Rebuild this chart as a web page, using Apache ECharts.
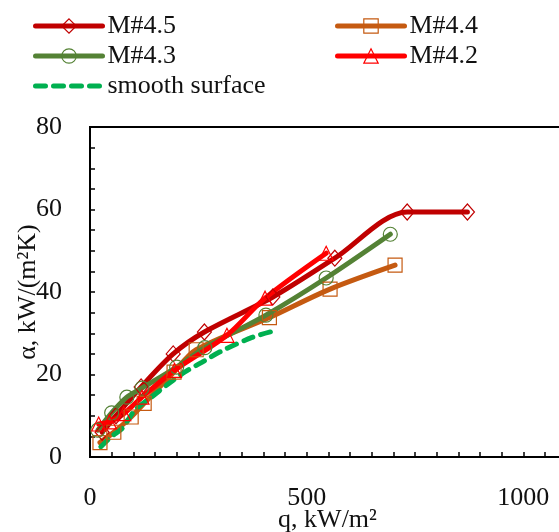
<!DOCTYPE html>
<html>
<head>
<meta charset="utf-8">
<script src="https://cdn.jsdelivr.net/npm/echarts@6/dist/echarts.min.js"></script>
<style>html,body{margin:0;padding:0;background:#fff}#c{width:559px;height:532px}</style>
</head>
<body>
<div id="c"></div>
<script>
// Data
const m45_q = [28, 60, 118, 192, 264, 422, 565, 732, 871];
const m45_a = [6, 10, 17, 25, 30.3, 38.8, 48.2, 59.4, 59.4];
const m44_q = [23, 55, 95, 125, 194, 245, 414, 554, 704];
const m44_a = [3.5, 6, 9.7, 13, 20.6, 26, 33.8, 40.7, 46.5];
const m43_q = [18, 50, 85, 120, 200, 265, 406, 545, 693];
const m43_a = [6.5, 10.7, 14.5, 16.7, 21.8, 26.5, 34.4, 43.4, 54];
const m42_q = [20, 45, 78, 120, 195, 316, 404, 545];
const m42_a = [8, 8.5, 10.5, 14.5, 21, 29.5, 38.5, 49.4];
const ss_q = [25, 50, 75, 104, 143, 178, 219, 259, 300, 374, 423];
const ss_a = [2.5, 5, 7, 11.4, 14.6, 17.5, 20.6, 23, 25.5, 29, 30.5];
const xTickLabels = [0, 500, 1000];
const yTickLabels = [0, 20, 40, 60, 80];

const zip = (a, b) => a.map((v, i) => [v, b[i]]);
const FONT = 'Liberation Serif';

function mk(name, q, a, color, symbol, extra) {
  return Object.assign({
    name: name,
    type: 'line',
    data: zip(q, a),
    smooth: 0.3,
    symbol: symbol,
    symbolSize: 14,
    showSymbol: true,
    lineStyle: { color: color, width: 5, cap: 'round' },
    itemStyle: { color: 'rgba(255,255,255,0)', borderColor: color, borderWidth: 1.2 }
  }, extra || {});
}

const series = [
  mk('M#4.5', m45_q, m45_a, '#C00000', 'diamond', { symbolSize: [14, 16] }),
  mk('M#4.4', m44_q, m44_a, '#C55A11', 'rect'),
  mk('M#4.3', m43_q, m43_a, '#548235', 'circle'),
  mk('M#4.2', m42_q, m42_a, '#FF0000', 'triangle'),
  {
    name: 'smooth surface', type: 'line', data: zip(ss_q, ss_a), smooth: 0.3,
    symbol: 'none', showSymbol: false,
    itemStyle: { color: 'rgba(0,0,0,0)', borderColor: 'rgba(0,0,0,0)' },
    lineStyle: { color: '#00B050', width: 5, type: [10, 8], cap: 'round' }
  }
];

const legendBase = {
  orient: 'vertical', itemWidth: 67, itemHeight: 18, itemGap: 4,
  textStyle: { fontFamily: FONT, fontSize: 26, color: '#111', lineHeight: 26 },
  lineStyle: { width: 5 },
  itemStyle: { borderWidth: 1.2 }
};

const chart = echarts.init(document.getElementById('c'), null, { renderer: 'canvas' });
chart.setOption({
  animation: false,
  backgroundColor: '#fff',
  legend: [
    Object.assign({}, legendBase, { left: 28, top: 8, data: ['M#4.5', 'M#4.3', 'smooth surface'] }),
    Object.assign({}, legendBase, { left: 330, top: 8, data: ['M#4.4', 'M#4.2'] })
  ],
  grid: { left: 90, top: 127, bottom: 75, right: -51, outerBoundsMode: 'none', containLabel: false, show: true, borderColor: '#000', borderWidth: 2, backgroundColor: 'transparent' },
  xAxis: {
    type: 'value', min: 0, max: 1200, interval: 50,
    name: 'q, kW/m²', nameLocation: 'middle', nameGap: 50, nameMoveOverlap: false,
    nameTextStyle: { fontFamily: FONT, fontSize: 26, color: '#111', padding: [0, 45, 0, 0] },
    axisLine: { show: true, lineStyle: { color: '#000', width: 2 } },
    axisTick: { show: true, inside: true, length: 5, lineStyle: { color: '#000', width: 1.5 } },
    splitLine: { show: false },
    axisLabel: {
      margin: 28, fontFamily: FONT, fontSize: 26, color: '#111',
      formatter: v => xTickLabels.includes(v) ? String(v) : ''
    }
  },
  yAxis: {
    type: 'value', min: 0, max: 80, interval: 5,
    name: 'α, kW/(m²K)', nameLocation: 'middle', nameGap: 49, nameMoveOverlap: false,
    nameTextStyle: { fontFamily: FONT, fontSize: 26, color: '#111' },
    axisLine: { show: true, lineStyle: { color: '#000', width: 2 } },
    axisTick: { show: true, inside: true, length: 5, lineStyle: { color: '#000', width: 1.5 } },
    splitLine: { show: false },
    axisLabel: {
      margin: 28, fontFamily: FONT, fontSize: 26, color: '#111',
      formatter: v => yTickLabels.includes(v) ? String(v) : ''
    }
  },
  series: series
});
</script>
</body>
</html>
